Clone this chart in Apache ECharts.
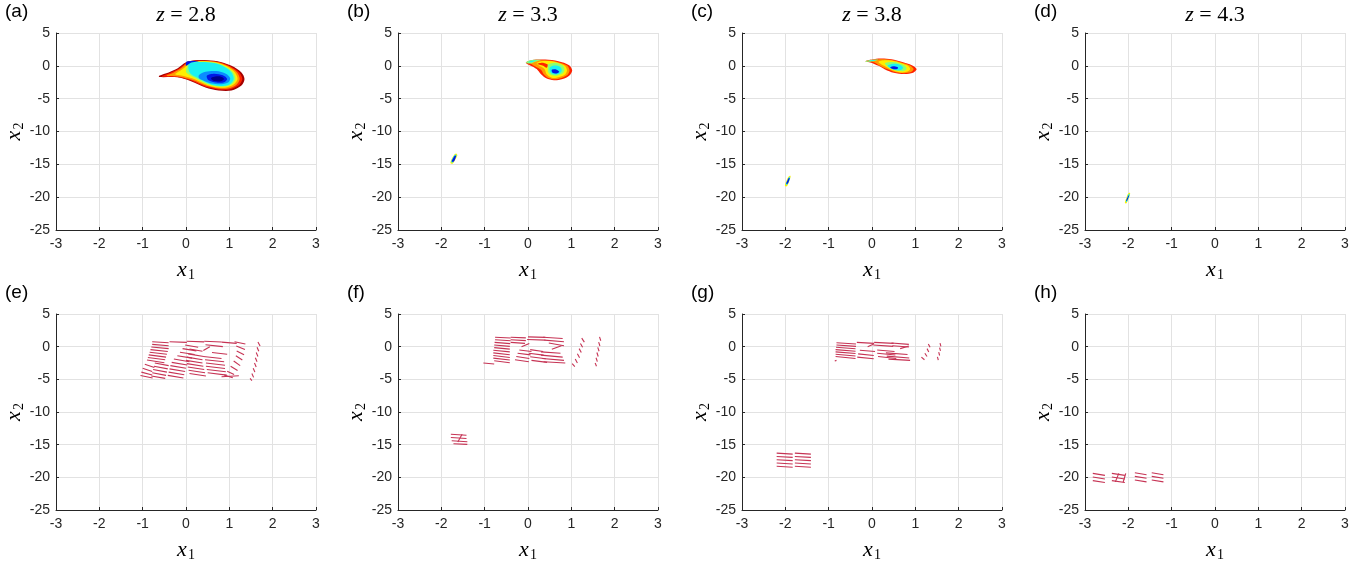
<!DOCTYPE html>
<html>
<head>
<meta charset="utf-8">
<style>
    html, body { margin: 0; padding: 0; overflow: hidden; background: #fff; }
</style>
</head>
<body>
<div id="main" style="width:1359px; height:563px;"></div>
<script src="https://cdn.jsdelivr.net/npm/echarts@6/dist/echarts.min.js"></script>
<script>
    // panel titles
    var zValues = ['2.8', '3.3', '3.8', '4.3'];
    var panelLetters = ['a', 'b', 'c', 'd', 'e', 'f', 'g', 'h'];

    // density levels (jet colormap index, outer -> inner), polygon vertices [x1, x2]
    var blobA = [
        {lv: 0, pts: [[-0.62,-1.5],[-0.4,-1.0],[-0.2,-0.4],[0.0,0.55],[0.2,0.85],[0.5,0.85],[0.8,0.6],[1.05,0.0],[1.28,-1.0],[1.35,-2.0],[1.28,-3.0],[1.05,-3.75],[0.75,-3.75],[0.45,-3.3],[0.1,-2.3],[-0.2,-1.75],[-0.62,-1.7]]},
        {lv: 1, pts: [[-0.55,-1.55],[-0.35,-1.0],[-0.15,-0.35],[0.02,0.5],[0.2,0.78],[0.5,0.78],[0.78,0.55],[1.02,-0.05],[1.23,-1.0],[1.3,-2.0],[1.22,-2.95],[1.0,-3.6],[0.75,-3.6],[0.45,-3.2],[0.12,-2.25],[-0.2,-1.7],[-0.55,-1.65]]},
        {lv: 2, pts: [[-0.45,-1.5],[-0.28,-1.0],[-0.1,-0.3],[0.03,0.45],[0.2,0.72],[0.5,0.72],[0.76,0.5],[0.98,-0.08],[1.18,-1.0],[1.24,-2.0],[1.16,-2.9],[0.97,-3.45],[0.75,-3.45],[0.47,-3.05],[0.15,-2.15],[-0.15,-1.65]]},
        {lv: 3, pts: [[-0.25,-1.3],[-0.1,-0.6],[0.02,0.1],[0.05,0.5],[0.2,0.66],[0.5,0.66],[0.74,0.45],[0.95,-0.1],[1.13,-1.0],[1.19,-2.0],[1.1,-2.85],[0.93,-3.3],[0.75,-3.3],[0.5,-2.95],[0.2,-2.05],[-0.05,-1.55]]},
        {lv: 4, pts: [[0.0,-0.9],[0.03,0.0],[0.06,0.5],[0.2,0.6],[0.5,0.6],[0.72,0.4],[0.92,-0.15],[1.09,-1.0],[1.14,-2.0],[1.06,-2.8],[0.9,-3.15],[0.75,-3.17],[0.52,-2.85],[0.25,-2.0],[0.08,-1.4]]},
        {lv: 5, pts: [[0.06,-0.6],[0.07,0.45],[0.2,0.55],[0.5,0.54],[0.7,0.35],[0.9,-0.2],[1.05,-1.0],[1.1,-2.0],[1.02,-2.75],[0.88,-3.05],[0.75,-3.05],[0.55,-2.75],[0.3,-1.95],[0.12,-1.3]]},
        {lv: 7, pts: [[0.0,0.0],[0.02,0.65],[0.3,0.7],[0.1,0.45]]},
        {lv: 6, pts: [[0.3,-1.4],[0.45,-0.9],[0.7,-0.8],[0.92,-1.2],[1.02,-1.9],[0.98,-2.5],[0.82,-2.8],[0.6,-2.7],[0.42,-2.3],[0.3,-1.9]]},
        {lv: 7, pts: [[0.48,-1.5],[0.65,-1.2],[0.85,-1.45],[0.95,-2.0],[0.88,-2.5],[0.7,-2.55],[0.52,-2.2]]},
        {lv: 8, pts: [[0.6,-1.75],[0.78,-1.6],[0.88,-2.0],[0.8,-2.35],[0.65,-2.3],[0.58,-2.0]]}
    ];
    var blobB = [
        {lv: 1, pts: [[-0.05,0.5],[0.1,0.9],[0.4,0.95],[0.7,0.7],[0.95,0.1],[1.02,-0.7],[0.95,-1.5],[0.8,-2.0],[0.6,-2.2],[0.42,-1.9],[0.3,-1.3],[0.2,-0.5],[0.1,-0.1],[0.0,0.2]]},
        {lv: 2, pts: [[0.05,0.45],[0.15,0.8],[0.4,0.85],[0.68,0.6],[0.9,0.05],[0.96,-0.7],[0.9,-1.45],[0.77,-1.85],[0.6,-2.05],[0.46,-1.8],[0.36,-1.25],[0.3,-0.6]]},
        {lv: 3, pts: [[0.2,0.35],[0.3,0.7],[0.5,0.72],[0.7,0.45],[0.85,0.0],[0.9,-0.7],[0.85,-1.35],[0.72,-1.7],[0.6,-1.85],[0.5,-1.65],[0.42,-1.15],[0.38,-0.5]]},
        {lv: 1, pts: [[0.22,0.3],[0.36,0.45],[0.46,0.15],[0.43,-0.3],[0.35,0.0]]},
        {lv: 4, pts: [[0.46,0.2],[0.58,0.45],[0.72,0.3],[0.82,-0.1],[0.84,-0.7],[0.78,-1.25],[0.65,-1.5],[0.52,-1.35],[0.46,-0.9],[0.46,-0.3]]},
        {lv: 5, pts: [[0.5,-0.3],[0.6,0.05],[0.74,-0.15],[0.78,-0.7],[0.72,-1.2],[0.6,-1.3],[0.52,-1.0]]},
        {lv: 7, pts: [[0.55,-0.6],[0.65,-0.55],[0.72,-0.9],[0.66,-1.15],[0.56,-1.0]]},
        {lv: 4, pts: [[-0.05,0.5],[0.05,0.85],[0.3,0.9],[0.15,0.6],[0.05,0.35]]},
        {lv: 5, pts: [[0.0,0.55],[0.08,0.78],[0.2,0.8],[0.1,0.6]]},
        {lv: 3, pts: [[-1.79,-14.85],[-1.77,-14.3],[-1.71,-13.6],[-1.66,-13.35],[-1.63,-13.6],[-1.68,-14.3],[-1.74,-14.9]]},
        {lv: 5, pts: [[-1.77,-14.7],[-1.75,-14.2],[-1.7,-13.65],[-1.66,-13.5],[-1.65,-13.7],[-1.69,-14.2],[-1.74,-14.75]]},
        {lv: 7, pts: [[-1.76,-14.55],[-1.73,-14.1],[-1.69,-13.7],[-1.66,-13.65],[-1.67,-14.0],[-1.71,-14.55]]}
    ];
    var blobC = [
        {lv: 1, pts: [[-0.15,0.7],[0.0,0.95],[0.2,1.1],[0.45,1.0],[0.7,0.6],[0.92,0.1],[1.03,-0.5],[0.95,-1.05],[0.75,-1.25],[0.5,-1.05],[0.3,-0.55],[0.15,0.0],[0.0,0.45]]},
        {lv: 2, pts: [[0.0,0.75],[0.2,1.0],[0.45,0.9],[0.68,0.52],[0.88,0.05],[0.96,-0.5],[0.9,-0.95],[0.74,-1.12],[0.53,-0.95],[0.35,-0.5],[0.2,-0.05],[0.08,0.45]]},
        {lv: 3, pts: [[0.15,0.6],[0.3,0.85],[0.5,0.75],[0.68,0.4],[0.83,0.0],[0.88,-0.5],[0.82,-0.88],[0.7,-1.0],[0.55,-0.85],[0.4,-0.45],[0.28,0.0]]},
        {lv: 4, pts: [[0.3,0.4],[0.45,0.6],[0.6,0.45],[0.75,0.05],[0.8,-0.45],[0.74,-0.78],[0.62,-0.8],[0.5,-0.6],[0.38,-0.2]]},
        {lv: 5, pts: [[0.36,0.0],[0.5,0.3],[0.64,0.15],[0.72,-0.3],[0.66,-0.65],[0.56,-0.68],[0.45,-0.45]]},
        {lv: 7, pts: [[0.42,-0.2],[0.52,-0.05],[0.6,-0.25],[0.58,-0.5],[0.48,-0.5]]},
        {lv: 4, pts: [[-0.15,0.7],[0.0,0.92],[0.15,0.95],[0.05,0.72],[-0.05,0.62]]},
        {lv: 5, pts: [[-0.1,0.72],[0.0,0.86],[0.08,0.85],[0.0,0.72]]},
        {lv: 3, pts: [[-2.01,-18.25],[-1.98,-17.6],[-1.93,-16.9],[-1.88,-16.75],[-1.89,-17.2],[-1.93,-17.9],[-1.97,-18.35]]},
        {lv: 5, pts: [[-1.99,-18.1],[-1.96,-17.55],[-1.92,-17.0],[-1.89,-16.9],[-1.9,-17.3],[-1.94,-17.9],[-1.97,-18.15]]},
        {lv: 7, pts: [[-1.98,-17.95],[-1.95,-17.45],[-1.92,-17.1],[-1.9,-17.1],[-1.91,-17.4],[-1.94,-17.9]]}
    ];
    var blobD = [
        {lv: 3, pts: [[-2.08,-20.85],[-2.05,-20.2],[-2.01,-19.5],[-1.96,-19.35],[-1.97,-19.8],[-2.01,-20.5],[-2.05,-20.95]]},
        {lv: 5, pts: [[-2.06,-20.7],[-2.03,-20.15],[-2.0,-19.6],[-1.97,-19.5],[-1.98,-19.9],[-2.02,-20.5],[-2.04,-20.75]]},
        {lv: 7, pts: [[-2.05,-20.55],[-2.02,-20.05],[-1.99,-19.7],[-1.98,-19.75],[-2.0,-20.1],[-2.03,-20.55]]}
    ];

    // quiver segments [x1, x2, dx1, dx2]
    var segE = [
        [-0.78,0.75,0.38,-0.15],[-0.78,0.35,0.38,-0.2],[-0.8,-0.05,0.4,-0.25],[-0.82,-0.45,0.4,-0.3],
        [-0.84,-0.85,0.4,-0.3],[-0.86,-1.25,0.4,-0.35],[-0.88,-1.65,0.4,-0.35],[-0.9,-2.05,0.4,-0.4],
        [-0.72,-2.5,0.32,-0.4],[-0.95,-2.7,0.22,-0.5],[-0.74,-3.0,0.32,-0.4],[-1.0,-3.3,0.22,-0.5],
        [-0.76,-3.5,0.32,-0.4],[-1.03,-3.9,0.25,-0.45],[-0.78,-4.0,0.32,-0.4],[-1.05,-4.4,0.28,-0.4],
        [-0.8,-4.5,0.32,-0.35],
        [-0.38,0.75,0.4,-0.1],[0.02,0.82,0.4,-0.08],[-0.02,0.25,0.3,-0.35],[-0.08,-0.3,0.32,-0.35],
        [-0.14,-0.85,0.34,-0.35],[-0.2,-1.4,0.34,-0.35],[-0.28,-1.9,0.36,-0.4],[-0.33,-2.4,0.36,-0.4],
        [-0.36,-2.9,0.36,-0.4],[-0.38,-3.4,0.36,-0.4],[-0.4,-3.9,0.36,-0.4],[-0.42,-4.4,0.36,-0.4],
        [0.08,-0.35,0.3,-0.35],[0.05,-1.1,0.36,-0.4],[0.02,-1.6,0.36,-0.4],[0.0,-2.1,0.38,-0.4],
        [0.02,-2.6,0.38,-0.4],[0.04,-3.1,0.38,-0.4],[0.06,-3.6,0.38,-0.4],[0.08,-4.1,0.38,-0.4],
        [0.42,0.82,0.4,-0.1],[0.82,0.7,0.35,-0.2],[0.45,0.3,0.4,-0.3],[0.4,-0.6,0.15,0.6],
        [0.6,-0.9,0.35,-0.25],[0.4,-1.5,0.42,-0.3],[0.44,-2.0,0.44,-0.3],[0.46,-2.5,0.44,-0.35],
        [0.46,-3.0,0.44,-0.35],[0.48,-3.5,0.44,-0.35],[0.5,-4.0,0.44,-0.35],[0.82,-4.6,0.4,0.15],
        [1.12,0.75,0.25,-0.35],[1.16,0.1,0.2,-0.55],[1.17,-0.65,0.17,-0.6],[1.15,-1.4,0.15,-0.65],
        [1.1,-2.2,0.15,-0.7],[1.03,-3.0,0.16,-0.65],[0.95,-3.75,0.16,-0.5],[0.88,-4.35,0.2,-0.4],
        [1.66,0.7,0.05,-0.6],[1.64,-0.1,0.04,-0.6],[1.62,-0.9,0.04,-0.6],[1.6,-1.7,0.04,-0.6],
        [1.58,-2.5,0.04,-0.6],[1.55,-3.3,0.04,-0.6],[1.52,-4.1,0.04,-0.6],[1.48,-4.85,0.04,-0.35]
    ];
    var segF = [
        [-0.76,1.45,0.36,-0.12],[-0.76,1.05,0.36,-0.15],[-0.77,0.65,0.36,-0.18],[-0.78,0.25,0.36,-0.2],
        [-0.78,-0.15,0.36,-0.22],[-0.8,-0.55,0.38,-0.25],[-0.8,-0.95,0.38,-0.28],[-0.8,-1.35,0.38,-0.3],
        [-0.8,-1.75,0.38,-0.3],[-0.78,-2.15,0.36,-0.3],[-1.03,-2.5,0.25,-0.15],
        [-0.4,1.45,0.35,-0.1],[-0.4,1.05,0.35,-0.12],[-0.4,0.65,0.33,-0.15],[-0.15,0.0,0.18,0.5],
        [-0.2,-0.5,0.28,-0.25],[-0.24,-1.0,0.3,-0.25],[-0.27,-1.5,0.3,-0.3],[-0.3,-2.0,0.32,-0.3],
        [0.0,1.5,0.4,-0.08],[-0.02,1.1,0.42,-0.1],[0.05,-0.45,0.3,-0.3],[0.02,-1.0,0.34,-0.3],
        [0.05,-1.55,0.36,-0.3],[0.08,-2.1,0.36,-0.3],
        [0.35,1.45,0.45,-0.2],[0.38,1.0,0.45,-0.25],[0.48,0.55,0.35,-0.4],[0.55,-0.4,0.22,0.55],
        [0.3,-0.8,0.45,-0.2],[0.3,-1.3,0.5,-0.3],[0.33,-1.8,0.5,-0.3],[0.36,-2.3,0.5,-0.2],
        [1.24,1.3,0.06,-0.6],[1.21,0.5,0.05,-0.6],[1.18,-0.3,0.05,-0.6],[1.14,-1.1,0.05,-0.6],
        [1.09,-1.9,0.05,-0.6],[1.02,-2.6,0.06,-0.45],
        [1.65,1.5,0.03,-0.6],[1.63,0.7,0.03,-0.6],[1.61,-0.1,0.03,-0.6],[1.59,-0.9,0.03,-0.6],
        [1.57,-1.7,0.03,-0.6],[1.55,-2.5,0.03,-0.5],
        [-1.78,-13.4,0.36,-0.15],[-1.78,-13.9,0.36,-0.15],[-1.76,-14.4,0.36,-0.15],[-1.72,-14.85,0.32,-0.1],
        [-1.62,-14.6,0.1,1.2]
    ];
    var segG = [
        [-0.82,0.6,0.45,-0.2],[-0.82,0.25,0.45,-0.2],[-0.83,-0.1,0.45,-0.22],[-0.84,-0.45,0.46,-0.25],
        [-0.84,-0.8,0.46,-0.25],[-0.84,-1.15,0.46,-0.28],[-0.84,-1.5,0.46,-0.3],[-0.86,-2.2,0.04,0.1],
        [-0.35,0.65,0.4,-0.15],[-0.1,0.0,0.14,0.4],[-0.28,-0.55,0.35,-0.2],[-0.32,-1.1,0.36,-0.25],
        [-0.34,-1.6,0.38,-0.25],
        [0.05,0.65,0.45,-0.15],[0.03,0.25,0.46,-0.2],[0.12,-0.5,0.4,-0.25],[0.12,-1.0,0.42,-0.28],
        [0.14,-1.5,0.42,-0.3],
        [0.45,0.55,0.4,-0.2],[0.47,0.15,0.38,-0.2],[0.65,-0.3,0.2,0.4],[0.32,-0.95,0.5,-0.25],
        [0.34,-1.45,0.52,-0.28],[0.38,-1.9,0.5,-0.2],
        [1.3,0.4,0.04,-0.5],[1.27,-0.3,0.04,-0.5],[1.22,-1.0,0.05,-0.5],[1.14,-1.6,0.07,-0.4],
        [1.57,0.55,0.02,-0.5],[1.56,-0.15,0.02,-0.5],[1.54,-0.85,0.02,-0.5],[1.51,-1.55,0.02,-0.5],
        [-2.2,-16.3,0.37,-0.15],[-2.2,-16.8,0.37,-0.15],[-2.2,-17.3,0.37,-0.15],[-2.2,-17.8,0.37,-0.15],[-2.2,-18.3,0.37,-0.15],
        [-1.78,-16.3,0.37,-0.15],[-1.78,-16.8,0.37,-0.15],[-1.78,-17.3,0.37,-0.15],[-1.78,-17.8,0.37,-0.15],[-1.78,-18.3,0.37,-0.15]
    ];
    var segH = [
        [-2.82,-19.4,0.28,-0.3],[-2.82,-19.95,0.28,-0.3],[-2.82,-20.5,0.28,-0.3],
        [-2.38,-19.4,0.3,-0.3],[-2.38,-19.95,0.3,-0.3],[-2.38,-20.5,0.3,-0.3],
        [-2.3,-20.7,0.08,1.3],[-2.12,-20.75,0.06,1.35],
        [-1.85,-19.3,0.27,-0.3],[-1.85,-19.85,0.27,-0.3],[-1.85,-20.4,0.27,-0.3],
        [-1.46,-19.3,0.27,-0.3],[-1.46,-19.85,0.27,-0.3],[-1.46,-20.4,0.27,-0.3]
    ];

    var JET = ['#a40000', '#ff2200', '#ff9a00', '#ffee00', '#8cff72', '#19f2f2', '#0a8cff', '#0018e6', '#00008c'];
    var SEG_COLOR = '#c63354';
    var AX = '#262626';
    var LEFTS = [56, 398, 742, 1085];
    var TOPS = [33, 314];

    var chart = echarts.init(document.getElementById('main'), null, {renderer: 'canvas'});

    var grids = [], xAxes = [], yAxes = [], series = [], graphics = [];
    var nameRich = {
        i: {fontFamily: 'Liberation Serif', fontStyle: 'italic', fontSize: 22, color: '#000'},
        s: {fontFamily: 'Liberation Serif', fontSize: 14, color: '#000', padding: [10, 0, 0, 1]}
    };

    for (var i = 0; i < 8; i++) {
        grids.push({left: LEFTS[i % 4], top: TOPS[Math.floor(i / 4)], width: 260, height: 197});
        xAxes.push({
            type: 'value', gridIndex: i, min: -3, max: 3, interval: 1,
            axisLine: {show: true, onZero: false, lineStyle: {color: AX, width: 1}},
            axisTick: {show: true, inside: true, length: 3, lineStyle: {color: AX}},
            axisLabel: {color: AX, fontSize: 14, margin: 7, fontFamily: 'Liberation Sans'},
            splitLine: {show: true, lineStyle: {color: '#e2e2e2'}},
            name: '{i|x}{s|1}', nameLocation: 'middle', nameGap: 28,
            nameTextStyle: {rich: nameRich}
        });
        yAxes.push({
            type: 'value', gridIndex: i, min: -25, max: 5, interval: 5,
            axisLine: {show: true, onZero: false, lineStyle: {color: AX, width: 1}},
            axisTick: {show: true, inside: true, length: 3, lineStyle: {color: AX}},
            axisLabel: {color: AX, fontSize: 14, margin: 6, fontFamily: 'Liberation Sans'},
            splitLine: {show: true, lineStyle: {color: '#e2e2e2'}},
            name: '{i|x}{s|2}', nameLocation: 'middle', nameGap: 30,
            nameTextStyle: {rich: nameRich}
        });
        graphics.push({
            type: 'text', left: LEFTS[i % 4] - 51, top: TOPS[Math.floor(i / 4)] - 31,
            style: {text: '(' + panelLetters[i] + ')', font: '19px "Liberation Sans"', fill: '#000'}
        });
    }

    zValues.forEach(function (z, k) {
        graphics.push({
            type: 'text', x: LEFTS[k] + 130, y: 4,
            style: {
                text: '{i|z}{r| = ' + z + '}', textAlign: 'center',
                rich: {
                    i: {fontFamily: 'Liberation Serif', fontStyle: 'italic', fontSize: 22, fill: '#000'},
                    r: {fontFamily: 'Liberation Serif', fontSize: 22, fill: '#000'}
                }
            }
        });
    });

    function blobSeries(blob, idx) {
        return {
            type: 'custom', xAxisIndex: idx, yAxisIndex: idx, silent: true,
            data: blob.map(function (b) { return b.pts[0]; }),
            renderItem: function (params, api) {
                var b = blob[params.dataIndex];
                var pts = b.pts.map(function (p) { return api.coord(p); });
                return {type: 'polygon', shape: {points: pts, smooth: 0.3}, style: {fill: JET[b.lv], stroke: null}};
            }
        };
    }

    function segSeries(segs, idx) {
        return {
            type: 'custom', xAxisIndex: idx, yAxisIndex: idx, silent: true,
            data: segs,
            renderItem: function (params, api) {
                var x = api.value(0), y = api.value(1), u = api.value(2), v = api.value(3);
                var p0 = api.coord([x, y]), p1 = api.coord([x + u, y + v]);
                return {type: 'line', shape: {x1: p0[0], y1: p0[1], x2: p1[0], y2: p1[1]},
                    style: {stroke: SEG_COLOR, lineWidth: 1.1}};
            }
        };
    }

    [blobA, blobB, blobC, blobD].forEach(function (b, k) { series.push(blobSeries(b, k)); });
    [segE, segF, segG, segH].forEach(function (s, k) { series.push(segSeries(s, k + 4)); });

    chart.setOption({
        animation: false,
        backgroundColor: '#fff',
        grid: grids,
        xAxis: xAxes,
        yAxis: yAxes,
        series: series,
        graphic: graphics
    });
</script>
</body>
</html>
